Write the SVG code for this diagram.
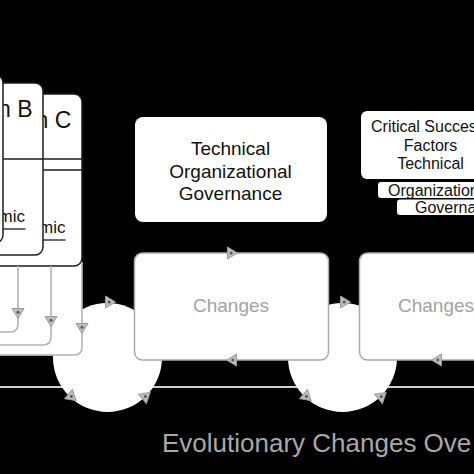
<svg xmlns="http://www.w3.org/2000/svg" width="474" height="474" viewBox="0 0 474 474">
<style>
.t{font-family:"Liberation Sans",Arial,sans-serif;}
.card{fill:#fff;stroke:#1e1e1e;stroke-width:1.5;}
.sep{stroke:#1e1e1e;stroke-width:1.3;fill:none;}
.box{fill:#fff;stroke:none;}
.chg{fill:#fff;stroke:#aaaaaa;stroke-width:1.5;}
.conn{fill:none;stroke:#b4b4b4;stroke-width:1.6;}
.gray{fill:#a3a3a3;}
</style>
<defs>
<g id="ah"><path d="M-4.5,-6 L5.5,0 L-4.5,6 Z" fill="#bdbdbd" stroke="#9c9c9c" stroke-width="1"/><circle cx="-0.8" cy="0" r="1.5" fill="#5a5a5a"/></g>
</defs>
<rect x="0" y="0" width="474" height="474" fill="#000"/>
<line x1="0" y1="387" x2="474" y2="387" stroke="#cfcfcf" stroke-width="2"/>
<g id="loop-1"><circle cx="107.5" cy="357.5" r="54.5" fill="#fff"/></g>
<g id="loop-2"><circle cx="342.5" cy="357.5" r="54.5" fill="#fff"/></g>
<rect x="-20" y="250" width="102" height="105.5" rx="8" fill="#fff"/>
<g id="card-c">
<rect class="card" x="-100" y="94" width="182" height="172" rx="8"/>
<line class="sep" x1="43" y1="159" x2="82" y2="159"/>
<line class="sep" x1="43" y1="170" x2="82" y2="170"/>
<text class="t" x="35.5" y="128" font-size="23" fill="#111">n C</text>
<text class="t" x="39" y="233" font-size="17" fill="#111">mic</text>
<line class="sep" x1="43" y1="240" x2="65.5" y2="240"/>
</g>
<g id="card-b">
<rect class="card" x="-150" y="83" width="193" height="172" rx="8"/>
<line class="sep" x1="3" y1="159" x2="43" y2="159"/>
<text class="t" x="-2" y="117" font-size="23" fill="#111">n B</text>
<text class="t" x="-1.5" y="222" font-size="17" fill="#111">mic</text>
<line class="sep" x1="3" y1="229" x2="25.5" y2="229"/>
</g>
<g id="card-a">
<rect class="card" x="-200" y="75" width="203" height="168" rx="8"/>
</g>
<g id="connectors">
<path class="conn" d="M18,266 V324 Q18,332 10,332 H-5"/>
<path class="conn" d="M51,266 V337 Q51,345 43,345 H-5"/>
<path class="conn" d="M82,262 V347 Q82,355 74,355 H-5"/>
</g>
<g id="box-top">
<rect class="box" x="135" y="117" width="192" height="105" rx="8"/>
<text class="t" x="230.5" y="155" font-size="19" fill="#111" text-anchor="middle">Technical</text>
<text class="t" x="230.5" y="177.5" font-size="19" fill="#111" text-anchor="middle">Organizational</text>
<text class="t" x="230.5" y="200" font-size="19" fill="#111" text-anchor="middle">Governance</text>
</g>
<g id="box-csf">
<rect class="box" x="361" y="111" width="160" height="68" rx="6"/>
<text class="t" x="371" y="132" font-size="16" fill="#111">Critical Succes</text>
<text class="t" x="430.5" y="150.5" font-size="16" fill="#111" text-anchor="middle">Factors</text>
<text class="t" x="430.5" y="169" font-size="16" fill="#111" text-anchor="middle">Technical</text>
</g>
<g id="box-org">
<rect class="box" x="378" y="182" width="140" height="16" rx="3"/>
<text class="t" x="388" y="196" font-size="16" fill="#111">Organization</text>
</g>
<g id="box-gov">
<rect class="box" x="397" y="199.5" width="140" height="15.5" rx="3"/>
<text class="t" x="415" y="213" font-size="16" fill="#111">Governa</text>
</g>
<g id="changes-1">
<rect class="chg" x="134.5" y="253" width="194" height="107" rx="8"/>
<text class="t gray" x="231" y="312" font-size="19" text-anchor="middle">Changes</text>
</g>
<g id="changes-2">
<rect class="chg" x="359.5" y="253" width="194" height="107" rx="8"/>
<text class="t gray" x="398" y="312" font-size="19">Changes</text>
</g>
<g id="arrowheads">
<use href="#ah" transform="translate(18,313) rotate(90)"/>
<use href="#ah" transform="translate(51,321) rotate(90)"/>
<use href="#ah" transform="translate(82,328) rotate(90)"/>
<use href="#ah" transform="translate(110,302)"/>
<use href="#ah" transform="translate(72,397) rotate(40)"/>
<use href="#ah" transform="translate(146,396) rotate(-40)"/>
<use href="#ah" transform="translate(232,253)"/>
<use href="#ah" transform="translate(232,360) rotate(180)"/>
<use href="#ah" transform="translate(345,302)"/>
<use href="#ah" transform="translate(307,397) rotate(40)"/>
<use href="#ah" transform="translate(382,396) rotate(-40)"/>
<use href="#ah" transform="translate(437,360) rotate(180)"/>
</g>
<g id="timeline-label">
<text class="t" x="162" y="452" font-size="26" fill="#a8a8a8">Evolutionary Changes Ove</text>
</g>
</svg>
